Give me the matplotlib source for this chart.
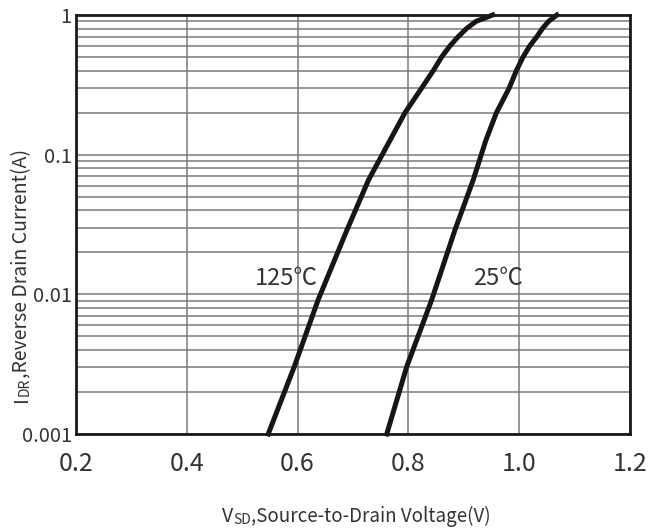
import numpy as np
import matplotlib
matplotlib.use("Agg")
import matplotlib.pyplot as plt
from matplotlib.ticker import FixedLocator, NullFormatter

plt.rcParams['font.family'] = ['Noto Sans CJK SC', 'DejaVu Sans']
plt.rcParams['font.weight'] = 'light'

# =====================================
# Datos
# =====================================

vsd_25 = [0.761, 0.797, 0.842, 0.884, 0.917, 0.940, 0.959, 0.982, 0.995, 1.007,
          1.019, 1.032, 1.042, 1.053, 1.068]
idr_25 = [0.001, 0.00303, 0.0091, 0.0288, 0.0658, 0.127, 0.2, 0.3, 0.4, 0.5,
          0.6, 0.7, 0.8, 0.9, 1.0]

vsd_125 = [0.547, 0.594, 0.637, 0.689, 0.728, 0.767, 0.794, 0.824, 0.845, 0.860,
           0.875, 0.890, 0.905, 0.922, 0.952]
idr_125 = [0.001, 0.00303, 0.0091, 0.0288, 0.0658, 0.127, 0.2, 0.3, 0.4, 0.5,
           0.6, 0.7, 0.8, 0.9, 1.0]

x_ticks = [0.2, 0.4, 0.6, 0.8, 1.0, 1.2]
x_labels = ["0.2", "0.4", "0.6", "0.8", "1.0", "1.2"]
y_ticks = [0.001, 0.01, 0.1, 1]
y_labels = ["0.001", "0.01", "0.1", "1"]

# =====================================
# Grafica
# =====================================

fig = plt.figure(figsize=(6.69, 5.29), dpi=100)
ax = fig.add_axes([0.1136, 0.1796, 0.828, 0.7920])

ax.set_yscale("log")
ax.set_xlim(0.2, 1.2)
ax.set_ylim(0.001, 1)

minor = [m * 10.0 ** e for e in (-3, -2, -1) for m in range(2, 10)]
ax.yaxis.set_minor_locator(FixedLocator(minor))
ax.yaxis.set_minor_formatter(NullFormatter())
ax.set_yticks(y_ticks)
ax.set_yticklabels(y_labels)
ax.set_xticks(x_ticks)
ax.set_xticklabels(x_labels)

ax.grid(True, which="both", axis="y", color="#7a7a7a", linewidth=1.1)
ax.grid(True, which="major", axis="x", color="#7a7a7a", linewidth=1.1)
ax.set_axisbelow(True)

ax.tick_params(which="both", length=0)
ax.tick_params(axis="x", labelsize=18, pad=12, labelcolor="#333333")
ax.tick_params(axis="y", labelsize=14.5, pad=3, labelcolor="#333333")
for spine in ax.spines.values():
    spine.set_linewidth(2)
    spine.set_color("#1a1a1a")

ax.plot(vsd_125, idr_125, color="#1a1414", linewidth=3.6, solid_joinstyle="round", clip_on=False)
ax.plot(vsd_25, idr_25, color="#1a1414", linewidth=3.6, solid_joinstyle="round", clip_on=False)

ax.text(0.523, 0.0129, "125℃", fontsize=17, color="#333333", va="center", ha="left")
ax.text(0.917, 0.0129, "25℃", fontsize=17, color="#333333", va="center", ha="left")

# Etiqueta eje x con versalitas
t1 = fig.text(222 / 669, 1 - 522 / 529, "V", fontsize=14, color="#333333", va="baseline", ha="left")
t2 = ax.annotate("SD", xy=(1, 0), xycoords=t1, fontsize=10, color="#333333", va="bottom", ha="left",
                 annotation_clip=False)
ax.annotate(",Source-to-Drain Voltage(V)", xy=(1, 0), xycoords=t2, fontsize=13.5, color="#333333",
            va="bottom", ha="left", annotation_clip=False)

# Etiqueta eje y con versalitas
s1 = fig.text(32 / 669, 1 - 396 / 529, "I", fontsize=14, color="#333333", rotation=90,
              va="bottom", ha="right", rotation_mode="anchor")
s2 = ax.annotate("DR", xy=(1, 1), xycoords=s1, fontsize=10, color="#333333", rotation=90,
                 va="bottom", ha="right", annotation_clip=False)
ax.annotate(",Reverse Drain Current(A)", xy=(1, 1), xycoords=s2, fontsize=14, color="#333333",
            rotation=90, va="bottom", ha="right", annotation_clip=False)

fig.savefig("out.png", dpi=100)
